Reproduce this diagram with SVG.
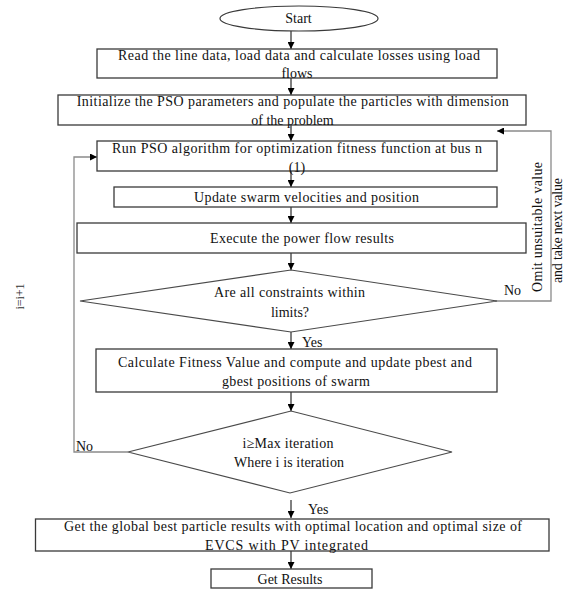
<svg xmlns="http://www.w3.org/2000/svg" width="574" height="593" viewBox="0 0 574 593">
<defs>
<marker id="ah" viewBox="0 0 10 10" refX="10" refY="5" markerWidth="7" markerHeight="7" markerUnits="userSpaceOnUse" orient="auto">
<path d="M0,0 L10,5 L0,10 z" fill="#000"/>
</marker>
<style>
.box{fill:#fff;stroke:#3a3a3a;stroke-width:1.3}
.dia{fill:#fff;stroke:#4a4a4a;stroke-width:1.2}
.t{font-family:"Liberation Serif","Times New Roman",serif;font-size:14px;fill:#111;text-anchor:middle}
.ts{font-family:"Liberation Serif","Times New Roman",serif;font-size:14px;fill:#111}
.c{fill:none;stroke:#000;stroke-width:1}
.g{fill:none;stroke:#8a8a8a;stroke-width:1.3}
</style>
</defs>
<rect width="574" height="593" fill="#fff"/>

<g id="connectors">
<line class="c" x1="291" y1="31" x2="291" y2="49" marker-end="url(#ah)"/>
<line class="c" x1="291" y1="78" x2="291" y2="95" marker-end="url(#ah)"/>
<line class="c" x1="291" y1="125" x2="291" y2="141" marker-end="url(#ah)"/>
<line class="c" x1="291" y1="171" x2="291" y2="187" marker-end="url(#ah)"/>
<line class="c" x1="291" y1="207" x2="291" y2="223" marker-end="url(#ah)"/>
<line class="c" x1="291" y1="253" x2="291" y2="270" marker-end="url(#ah)"/>
<line class="c" x1="291" y1="332" x2="291" y2="349" marker-end="url(#ah)"/>
<line class="c" x1="291" y1="392" x2="291" y2="411" marker-end="url(#ah)"/>
<line class="c" x1="291" y1="500" x2="291" y2="518" marker-end="url(#ah)"/>
<line class="c" x1="291" y1="551" x2="291" y2="569" marker-end="url(#ah)"/>
<polyline class="g" points="495,301 551,301 551,131 497,131" marker-end="url(#ah)"/>
<polyline class="g" points="128,452 74,452 74,157 97,157" marker-end="url(#ah)"/>
<text class="ts" x="504" y="295">No</text>
<text class="ts" x="76" y="451">No</text>
<text class="ts" x="302" y="347">Yes</text>
<text class="ts" x="308" y="514">Yes</text>
<text class="t" transform="translate(542,227) rotate(-90)" textLength="130" lengthAdjust="spacing">Omit unsuitable value</text>
<text class="t" transform="translate(561.5,230.5) rotate(-90)" textLength="105" lengthAdjust="spacing">and take next value</text>
<text class="t" transform="translate(24,296.5) rotate(-90)" style="font-size:12px;fill:#333">i=i+1</text>
</g>

<g id="start">
<ellipse cx="299" cy="18.5" rx="79" ry="12.5" fill="#fff" stroke="#3a3a3a" stroke-width="1.2"/>
<text class="t" x="298.5" y="23">Start</text>
</g>

<g id="read-data">
<rect class="box" x="97" y="49" width="400" height="29"/>
<text class="t" x="299" y="60" textLength="362" lengthAdjust="spacing">Read the line  data, load data and calculate  losses using  load</text>
<text class="t" x="297" y="77.5">flows</text>
</g>

<g id="init-pso">
<rect class="box" x="58" y="95" width="468" height="30"/>
<text class="t" x="292.7" y="106" textLength="432" lengthAdjust="spacing">Initialize  the PSO parameters  and populate  the particles  with  dimension</text>
<text class="t" x="292.5" y="124.5">of the problem</text>
</g>

<g id="run-pso">
<rect class="box" x="97" y="141" width="400" height="30"/>
<text class="t" x="297" y="152.5" textLength="370" lengthAdjust="spacing">Run PSO algorithm  for optimization  fitness  function  at bus n</text>
<text class="t" x="297" y="171.5">(1)</text>
</g>

<g id="update-swarm">
<rect class="box" x="114" y="187" width="383" height="20"/>
<text class="t" x="306.5" y="201.5" textLength="225" lengthAdjust="spacing">Update swarm  velocities  and position</text>
</g>

<g id="execute-pf">
<rect class="box" x="77" y="223" width="449" height="30"/>
<text class="t" x="302" y="242.5" textLength="184" lengthAdjust="spacing">Execute  the power flow  results</text>
</g>

<g id="constraints">
<polygon class="dia" points="80,301 291,270 497,301 291,332"/>
<text class="t" x="289.5" y="296.5" textLength="151" lengthAdjust="spacing">Are all constraints  within</text>
<text class="t" x="290" y="316.5">limits?</text>
</g>

<g id="fitness">
<rect class="box" x="96" y="349" width="401" height="43"/>
<text class="t" x="295" y="366.5" textLength="354" lengthAdjust="spacing">Calculate  Fitness  Value  and  compute  and update pbest and</text>
<text class="t" x="296" y="385.5" textLength="148" lengthAdjust="spacing">gbest positions  of swarm</text>
</g>

<g id="max-iter">
<polygon class="dia" points="128,452 291,411 452,452 290,493"/>
<text class="t" x="288" y="447.5" textLength="91" lengthAdjust="spacing">i≥Max  iteration</text>
<text class="t" x="289" y="466.5" textLength="110" lengthAdjust="spacing">Where i is iteration</text>
</g>

<g id="global-best">
<rect class="box" x="35.5" y="519" width="513.5" height="32"/>
<text class="t" x="293" y="531" textLength="458" lengthAdjust="spacing">Get the global  best particle  results  with  optimal  location  and optimal  size  of</text>
<text class="t" x="286.5" y="550" textLength="163" lengthAdjust="spacing">EVCS  with  PV integrated</text>
</g>

<g id="results">
<rect class="box" x="211" y="569" width="161" height="19"/>
<text class="t" x="290" y="583.5">Get Results</text>
</g>
</svg>
